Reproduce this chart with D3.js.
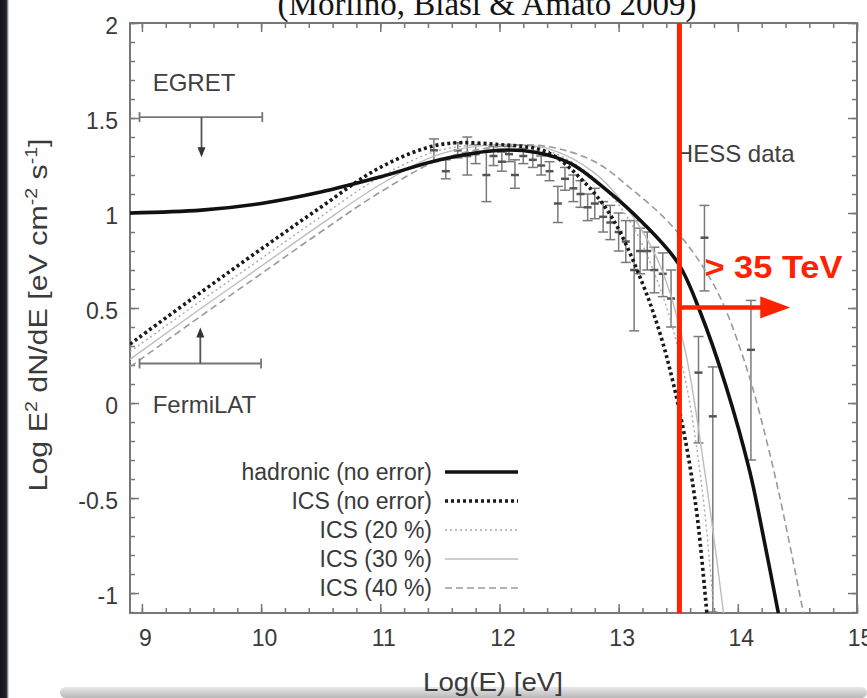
<!DOCTYPE html>
<html>
<head>
<meta charset="utf-8">
<script src="https://cdn.jsdelivr.net/npm/d3@7"></script>
<style>
  html, body { margin: 0; padding: 0; background: #fff; }
  svg { display: block; }
  text { font-family: "Liberation Sans", Arial, sans-serif; }
</style>
</head>
<body>
<svg id="chart" width="867" height="698"></svg>
<script>
// axis ticks
const xTicks = [9, 10, 11, 12, 13, 14, 15];
const yTicks = [-1, -0.5, 0, 0.5, 1, 1.5, 2];

// model curves, log10(E) vs log10(E^2 dN/dE)
const hadronicE = [8.9, 9.5, 10, 10.5, 11, 11.5, 12, 12.3, 12.6, 12.9, 13.2, 13.5, 13.69, 13.9, 14.1, 14.22, 14.34];
const hadronicF = [1.0, 1.015, 1.05, 1.11, 1.19, 1.28, 1.33, 1.32, 1.26, 1.12, 0.95, 0.735, 0.47, 0.09, -0.36, -0.72, -1.105];

const icsE = [8.9, 9.5, 10, 10.5, 11, 11.5, 12, 12.4, 12.7, 12.95, 13.2, 13.35, 13.46, 13.57, 13.66, 13.74];
const icsF = [0.31, 0.585, 0.81, 1.03, 1.24, 1.36, 1.36, 1.32, 1.17, 0.97, 0.63, 0.36, 0.1, -0.23, -0.6, -1.105];

const ics20E = [8.9, 9.5, 10, 10.5, 11, 11.5, 12, 12.4, 12.8, 13.1, 13.35, 13.55, 13.7, 13.8];
const ics20F = [0.27, 0.54, 0.76, 0.98, 1.19, 1.33, 1.36, 1.33, 1.18, 0.95, 0.6, 0.15, -0.45, -1.105];

const ics30E = [8.9, 9.5, 10, 10.5, 11, 11.5, 12, 12.4, 12.8, 13.1, 13.35, 13.55, 13.72, 13.88];
const ics30F = [0.23, 0.5, 0.72, 0.94, 1.15, 1.31, 1.36, 1.34, 1.21, 1.0, 0.72, 0.3, -0.35, -1.105];

const ics40E = [8.9, 9.5, 10, 10.5, 11, 11.5, 12, 12.4, 12.8, 13.1, 13.45, 13.8, 14.05, 14.3, 14.55];
const ics40F = [0.19, 0.46, 0.68, 0.9, 1.11, 1.28, 1.35, 1.35, 1.27, 1.13, 0.93, 0.62, 0.23, -0.35, -1.105];

// HESS points
const hessE  = [11.45, 11.55, 11.65, 11.73, 11.8, 11.89, 11.95, 12.02, 12.08, 12.13, 12.2, 12.28, 12.35, 12.42, 12.49, 12.55, 12.62, 12.68, 12.74, 12.8, 12.87, 12.93, 13.0, 13.06, 13.13, 13.18, 13.24, 13.3, 13.37, 13.44, 13.67, 13.72, 13.79, 14.11];
const hessF  = [1.33, 1.22, 1.33, 1.3, 1.31, 1.2, 1.3, 1.27, 1.31, 1.2, 1.3, 1.28, 1.25, 1.22, 1.05, 1.18, 1.13, 1.1, 1.03, 1.05, 0.98, 0.95, 0.9, 0.85, 0.7, 0.8, 0.8, 0.7, 0.68, 0.55, 0.16, 0.87, -0.07, 0.28];
const hessLo = [1.27, 1.18, 1.29, 1.2, 1.26, 1.06, 1.25, 1.22, 1.27, 1.13, 1.26, 1.24, 1.2, 1.17, 0.95, 1.12, 1.06, 1.03, 0.96, 0.97, 0.9, 0.86, 0.8, 0.74, 0.38, 0.68, 0.7, 0.58, 0.56, 0.4, -0.21, 0.59, -1.1, -0.3];
const hessHi = [1.39, 1.28, 1.37, 1.4, 1.36, 1.32, 1.35, 1.32, 1.35, 1.28, 1.34, 1.32, 1.3, 1.27, 1.14, 1.24, 1.2, 1.17, 1.1, 1.13, 1.06, 1.04, 1.0, 0.96, 0.96, 0.92, 0.9, 0.82, 0.79, 0.7, 0.35, 1.04, 0.19, 0.54];

// EGRET / FermiLAT upper limits
const limitNames = ['EGRET', 'FermiLAT'];
const limitLo = [8.98, 8.98];
const limitHi = [10.01, 10.0];
const limitMid = [9.5, 9.49];
const limitF = [1.505, 0.208];
const limitTip = [1.294, 0.397];

const legendNames = ['hadronic (no error)', 'ICS (no error)', 'ICS (20 %)', 'ICS (30 %)', 'ICS (40 %)'];

// red cut annotation
const cutE = 13.51;
const cutArrowF = 0.503;
const cutArrowEnd = 14.44;

const svg = d3.select('#chart');
const plotL = 130, plotR = 857, plotT = 23, plotB = 613;

const x = d3.scaleLinear().domain([8.9, 15]).range([plotL, plotR]);
const y = d3.scaleLinear().domain([-1.105, 2]).range([plotB, plotT]);

// slide background bits
const defs = svg.append('defs');
const g1 = defs.append('linearGradient').attr('id', 'shade').attr('x1', 0).attr('y1', 0).attr('x2', 0).attr('y2', 1);
g1.append('stop').attr('offset', '0%').attr('stop-color', '#e8e8e8');
g1.append('stop').attr('offset', '100%').attr('stop-color', '#b8b8b8');
const g2 = defs.append('linearGradient').attr('id', 'edge').attr('x1', 0).attr('y1', 0).attr('x2', 1).attr('y2', 0);
g2.append('stop').attr('offset', '0%').attr('stop-color', '#151520');
g2.append('stop').attr('offset', '70%').attr('stop-color', '#20202c');
g2.append('stop').attr('offset', '100%').attr('stop-color', '#20202c').attr('stop-opacity', 0);
defs.append('clipPath').attr('id', 'plotclip')
    .append('rect').attr('x', plotL).attr('y', plotT).attr('width', plotR - plotL).attr('height', plotB - plotT);

svg.append('rect').attr('x', 0).attr('y', 0).attr('width', 867).attr('height', 698).attr('fill', '#fff');
svg.append('rect').attr('x', 60).attr('y', 687).attr('width', 807).attr('height', 11).attr('rx', 6).attr('fill', 'url(#shade)');
svg.append('rect').attr('x', 0).attr('y', 0).attr('width', 9).attr('height', 698).attr('fill', 'url(#edge)');

// title, cut at the top of the picture
svg.append('text')
    .attr('x', 487).attr('y', 15)
    .attr('text-anchor', 'middle')
    .style('font-family', '"Liberation Serif", "Times New Roman", serif')
    .style('font-size', '33px')
    .attr('fill', '#141414')
    .text('(Morlino, Blasi & Amato 2009)');

// axes (gnuplot-style inward ticks on all four sides)
const tickColor = '#777';
function styleAxis(g) {
    g.select('.domain').remove();
    g.selectAll('line').attr('stroke', tickColor).attr('stroke-width', 1.5);
    g.selectAll('text').attr('fill', '#3a3a3a').style('font-size', '23px').style('font-family', '"Liberation Sans", Arial, sans-serif');
}
const xMinor = d3.range(9, 15.001, 0.2);
const yMinor = d3.range(-1.1, 2.001, 0.1);

svg.append('g').attr('transform', `translate(0,${plotB})`)
    .call(d3.axisBottom(x).tickValues(xMinor).tickSize(-5).tickFormat('')).call(styleAxis);
svg.append('g').attr('transform', `translate(0,${plotT})`)
    .call(d3.axisTop(x).tickValues(xMinor).tickSize(-5).tickFormat('')).call(styleAxis);
svg.append('g').attr('transform', `translate(${plotL},0)`)
    .call(d3.axisLeft(y).tickValues(yMinor).tickSize(-5).tickFormat('')).call(styleAxis);
svg.append('g').attr('transform', `translate(${plotR},0)`)
    .call(d3.axisRight(y).tickValues(yMinor).tickSize(-5).tickFormat('')).call(styleAxis);

const xAxis = svg.append('g').attr('transform', `translate(0,${plotB})`)
    .call(d3.axisBottom(x).tickValues(xTicks).tickSize(-9).tickPadding(17).tickFormat(d => String(d)))
    .call(styleAxis);
xAxis.selectAll('text').attr('dx', 3);
svg.append('g').attr('transform', `translate(0,${plotT})`)
    .call(d3.axisTop(x).tickValues(xTicks).tickSize(-9).tickFormat('')).call(styleAxis);
const yAxis = svg.append('g').attr('transform', `translate(${plotL},0)`)
    .call(d3.axisLeft(y).tickValues(yTicks).tickSize(-9).tickPadding(12).tickFormat(d => String(d)))
    .call(styleAxis);
yAxis.selectAll('text').attr('dy', '0.45em');
svg.append('g').attr('transform', `translate(${plotR},0)`)
    .call(d3.axisRight(y).tickValues(yTicks).tickSize(-9).tickFormat('')).call(styleAxis);

svg.append('rect')
    .attr('x', plotL).attr('y', plotT).attr('width', plotR - plotL).attr('height', plotB - plotT)
    .attr('fill', 'none').attr('stroke', tickColor).attr('stroke-width', 2);

// axis titles
const yTitle = svg.append('text')
    .attr('transform', 'translate(47,315) rotate(-90)')
    .attr('text-anchor', 'middle')
    .attr('fill', '#3a3a3a')
    .style('font-size', '25px')
    .attr('textLength', 353).attr('lengthAdjust', 'spacingAndGlyphs');
yTitle.append('tspan').text('Log E');
yTitle.append('tspan').attr('dy', -10).style('font-size', '16px').text('2');
yTitle.append('tspan').attr('dy', 10).text(' dN/dE   [eV cm');
yTitle.append('tspan').attr('dy', -10).style('font-size', '16px').text('-2');
yTitle.append('tspan').attr('dy', 10).text(' s');
yTitle.append('tspan').attr('dy', -10).style('font-size', '16px').text('-1');
yTitle.append('tspan').attr('dy', 10).text(']');

svg.append('text')
    .attr('x', 493).attr('y', 691)
    .attr('text-anchor', 'middle')
    .attr('fill', '#3a3a3a')
    .style('font-size', '25px')
    .attr('textLength', 140).attr('lengthAdjust', 'spacingAndGlyphs')
    .text('Log(E)  [eV]');

// curves
const plot = svg.append('g').attr('clip-path', 'url(#plotclip)');
const line = d3.line().x(d => x(d[0])).y(d => y(d[1])).curve(d3.curveCatmullRom.alpha(0.5));

const series = [
    { e: ics30E, f: ics30F, stroke: '#bdbdbd', width: 1.4, dash: null },
    { e: ics20E, f: ics20F, stroke: '#a8a8a8', width: 1.4, dash: '2,3' },
    { e: ics40E, f: ics40F, stroke: '#9a9a9a', width: 1.6, dash: '7,4' },
    { e: icsE, f: icsF, stroke: '#1a1a1a', width: 3.6, dash: '3,3' },
    { e: hadronicE, f: hadronicF, stroke: '#111', width: 3.6, dash: null }
];

// HESS error bars
const hess = hessE.map((e, i) => ({ e: e, f: hessF[i], lo: hessLo[i], hi: hessHi[i] }));
const pts = plot.append('g').attr('stroke', '#7a7a7a').attr('stroke-width', 1.5);
pts.selectAll('line.bar').data(hess).enter().append('line')
    .attr('x1', d => x(d.e)).attr('x2', d => x(d.e))
    .attr('y1', d => y(d.lo)).attr('y2', d => y(d.hi));
pts.selectAll('line.lo').data(hess).enter().append('line')
    .attr('x1', d => x(d.e) - 5).attr('x2', d => x(d.e) + 5)
    .attr('y1', d => y(d.lo)).attr('y2', d => y(d.lo));
pts.selectAll('line.hi').data(hess).enter().append('line')
    .attr('x1', d => x(d.e) - 5).attr('x2', d => x(d.e) + 5)
    .attr('y1', d => y(d.hi)).attr('y2', d => y(d.hi));
pts.selectAll('line.pt').data(hess).enter().append('line')
    .attr('x1', d => x(d.e) - 4).attr('x2', d => x(d.e) + 4)
    .attr('y1', d => y(d.f)).attr('y2', d => y(d.f))
    .attr('stroke', '#555').attr('stroke-width', 2.5);

plot.selectAll('path.model').data(series).enter().append('path')
    .attr('class', 'model')
    .attr('d', s => line(s.e.map((e, i) => [e, s.f[i]])))
    .attr('fill', 'none')
    .attr('stroke', s => s.stroke)
    .attr('stroke-width', s => s.width)
    .attr('stroke-dasharray', s => s.dash);

// upper limits
const limits = limitNames.map((n, i) => ({ name: n, lo: limitLo[i], hi: limitHi[i], mid: limitMid[i], f: limitF[i], tip: limitTip[i] }));
const lim = svg.append('g').attr('stroke', '#555').attr('stroke-width', 1.8);
limits.forEach(d => {
    lim.append('line').attr('x1', x(d.lo)).attr('x2', x(d.hi)).attr('y1', y(d.f)).attr('y2', y(d.f)).attr('stroke', '#777');
    lim.append('line').attr('x1', x(d.lo)).attr('x2', x(d.lo)).attr('y1', y(d.f) - 5).attr('y2', y(d.f) + 5).attr('stroke', '#777');
    lim.append('line').attr('x1', x(d.hi)).attr('x2', x(d.hi)).attr('y1', y(d.f) - 5).attr('y2', y(d.f) + 5).attr('stroke', '#777');
    const dir = d.tip > d.f ? -1 : 1;
    const yt = y(d.tip);
    lim.append('line').attr('x1', x(d.mid)).attr('x2', x(d.mid)).attr('y1', y(d.f)).attr('y2', yt - dir * 8);
    lim.append('path')
        .attr('d', `M${x(d.mid)},${yt} L${x(d.mid) - 4},${yt - dir * 10} L${x(d.mid) + 4},${yt - dir * 10} Z`)
        .attr('fill', '#333').attr('stroke', 'none');
});

const labelStyle = t => t.attr('fill', '#404040').style('font-size', '24px');
svg.append('text').attr('x', x(9.09)).attr('y', y(1.64)).call(labelStyle).text(limitNames[0]);
svg.append('text').attr('x', x(9.09)).attr('y', y(-0.053)).call(labelStyle).text(limitNames[1]);
svg.append('text').attr('x', x(13.48)).attr('y', y(1.27)).call(labelStyle).text('HESS data');

// legend
const legend = svg.append('g');
legendNames.forEach((name, i) => {
    const ly = 472 + i * 29;
    legend.append('text')
        .attr('x', 432).attr('y', ly).attr('dy', '0.35em')
        .attr('text-anchor', 'end')
        .attr('fill', '#3a3a3a')
        .style('font-size', '23px')
        .text(name);
    const s = series[[4, 3, 1, 0, 2][i]];
    legend.append('line')
        .attr('x1', 445).attr('x2', 518).attr('y1', ly).attr('y2', ly)
        .attr('stroke', s.stroke).attr('stroke-width', s.width)
        .attr('stroke-dasharray', s.dash);
});

// red cut annotation
const red = '#ff2200';
svg.append('line')
    .attr('x1', x(cutE)).attr('x2', x(cutE)).attr('y1', plotT).attr('y2', plotB)
    .attr('stroke', red).attr('stroke-width', 5);
const ay = y(cutArrowF);
const ax = x(cutArrowEnd);
svg.append('line')
    .attr('x1', x(cutE)).attr('x2', ax - 26).attr('y1', ay).attr('y2', ay)
    .attr('stroke', red).attr('stroke-width', 4.5);
svg.append('path')
    .attr('d', `M${ax},${ay} L${ax - 30},${ay - 11} L${ax - 30},${ay + 11} Z`)
    .attr('fill', red);
svg.append('text')
    .attr('x', x(13.72)).attr('y', y(0.66))
    .attr('fill', red)
    .style('font-size', '31px').style('font-weight', 'bold')
    .attr('textLength', 138).attr('lengthAdjust', 'spacingAndGlyphs')
    .text('> 35 TeV');
</script>
</body>
</html>
